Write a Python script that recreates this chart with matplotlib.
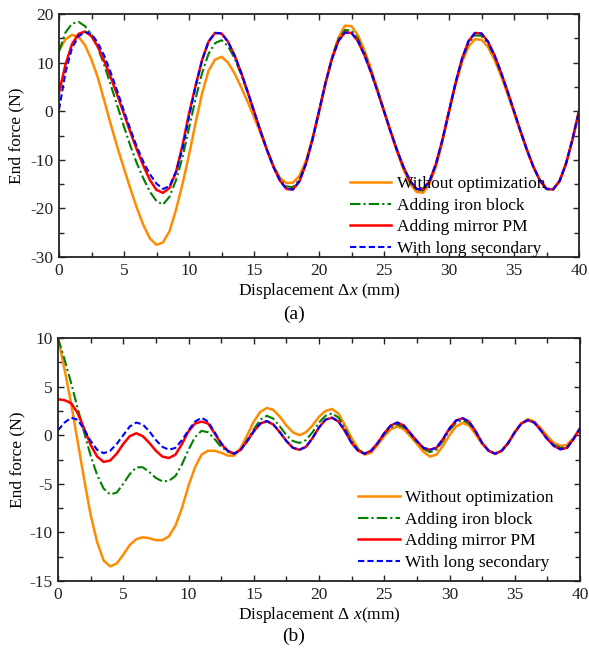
import numpy as np
import matplotlib
matplotlib.use("Agg")
import matplotlib.pyplot as plt
from matplotlib.ticker import MultipleLocator

plt.rcParams['font.family'] = ['Liberation Serif', 'DejaVu Serif']
plt.rcParams['mathtext.fontset'] = 'custom'
plt.rcParams['mathtext.rm'] = 'Liberation Serif'
plt.rcParams['mathtext.it'] = 'Liberation Serif:italic'
plt.rcParams['axes.unicode_minus'] = False

# displacement samples (mm), 0.5 mm step
dx = np.linspace(0, 40, 81)

labels = ["Without optimization", "Adding iron block", "Adding mirror PM", "With long secondary"]

# ---- (a) end force, N ----
a_without = [12.5, 14.8, 15.7, 15.3, 13.6, 10.6, 6.8, 2.0, -2.9, -7.5, -11.8, -16.0, -20.0, -23.5, -26.2, -27.5, -27.0, -24.7, -20.3, -15.0, -9.0,
             -2.5, 3.6, 8.3, 10.6, 11.2, 10.0, 7.8, 5.0, 2.0, -1.2, -4.5, -8.0, -11.3, -13.7, -14.8, -14.7, -13.3, -10.2, -5.6, -0.3,
             5.6, 11.0, 15.2, 17.6, 17.5, 15.6, 12.5, 8.7, 4.5, 0.1, -4.2, -8.3, -12.0, -14.9, -16.6, -16.8, -15.0, -11.4, -6.2, -0.2,
             5.4, 10.1, 13.3, 14.8, 14.7, 13.2, 10.6, 7.3, 3.6, -0.3, -4.2, -8.0, -11.5, -14.2, -15.9, -16.1, -14.4, -10.8, -5.8, 0.2]
a_iron = [12.3, 16.2, 18.0, 18.4, 17.5, 15.8, 13.0, 9.3, 5.2, 1.0, -3.2, -7.2, -10.8, -13.9, -16.6, -18.5, -19.2, -17.6, -14.2, -9.5, -3.5,
          2.5, 7.8, 11.8, 14.0, 14.6, 13.4, 10.9, 7.6, 3.9, 0.0, -4.0, -7.9, -11.3, -14.0, -15.5, -15.6, -14.0, -10.6, -5.7, 0.0,
          5.9, 11.1, 14.9, 16.7, 16.6, 14.9, 12.0, 8.4, 4.3, 0.0, -4.1, -8.1, -11.7, -14.5, -16.2, -16.3, -14.6, -11.0, -5.9, 0.0,
          5.6, 10.5, 14.0, 15.6, 15.5, 13.9, 11.2, 7.8, 4.0, 0.0, -4.1, -8.0, -11.5, -14.3, -16.0, -16.1, -14.4, -10.8, -5.8, 0.0]
a_mirror = [3.8, 9.6, 13.8, 15.9, 16.4, 15.4, 13.2, 10.2, 6.8, 3.2, -0.6, -4.4, -8.0, -11.3, -14.2, -16.2, -16.8, -15.8, -12.5, -7.0, -0.5,
            5.2, 10.5, 14.3, 16.1, 16.0, 14.3, 11.5, 8.0, 4.1, 0.0, -4.1, -8.0, -11.5, -14.3, -16.0, -16.1, -14.4, -10.8, -5.8, 0.0,
            5.8, 10.8, 14.5, 16.2, 16.1, 14.4, 11.5, 8.0, 4.1, 0.0, -4.1, -8.0, -11.5, -14.3, -16.0, -16.1, -14.4, -10.8, -5.8, 0.0,
            5.8, 10.8, 14.4, 16.1, 16.0, 14.3, 11.5, 8.0, 4.1, 0.0, -4.1, -8.0, -11.5, -14.3, -16.0, -16.1, -14.4, -10.8, -5.8, 0.0]
a_long = [0.3, 8.0, 13.0, 15.4, 16.3, 15.9, 14.0, 11.3, 7.8, 4.0, 0.0, -3.8, -7.4, -10.5, -13.0, -14.9, -16.0, -15.4, -12.5, -7.8, -1.2,
          5.0, 10.4, 14.3, 16.1, 16.0, 14.3, 11.5, 8.0, 4.1, 0.0, -4.1, -8.0, -11.5, -14.3, -16.0, -16.1, -14.4, -10.8, -5.8, 0.0,
          5.8, 10.8, 14.5, 16.2, 16.1, 14.4, 11.5, 8.0, 4.1, 0.0, -4.1, -8.0, -11.5, -14.3, -16.0, -16.1, -14.4, -10.8, -5.8, 0.0,
          5.8, 10.8, 14.4, 16.1, 16.0, 14.3, 11.5, 8.0, 4.1, 0.0, -4.1, -8.0, -11.5, -14.3, -16.0, -16.1, -14.4, -10.8, -5.8, 0.0]

# ---- (b) end force, N ----
b_without = [10.0, 6.8, 3.3, -0.6, -4.5, -8.2, -11.0, -12.9, -13.5, -13.2, -12.3, -11.3, -10.7, -10.5, -10.6, -10.8, -10.8, -10.4, -9.3, -7.5, -5.2,
             -3.3, -2.0, -1.6, -1.6, -1.8, -2.1, -2.1, -1.3, 0.0, 1.4, 2.4, 2.8, 2.6, 1.9, 1.0, 0.3, 0.0, 0.3, 1.0, 1.9,
             2.5, 2.7, 2.2, 1.0, -0.3, -1.4, -2.0, -1.8, -1.0, -0.1, 0.6, 0.9, 0.6, -0.1, -0.9, -1.7, -2.2, -2.0, -1.1, 0.0,
             0.9, 1.25, 1.0, 0.1, -0.9, -1.6, -1.95, -1.6, -0.8, 0.3, 1.2, 1.65, 1.4, 0.7, -0.1, -0.8, -1.1, -1.0, -0.3, 0.7]
b_iron = [10.0, 7.8, 5.4, 2.8, 0.3, -2.1, -4.1, -5.5, -6.1, -5.9, -5.0, -4.0, -3.3, -3.3, -3.8, -4.4, -4.75, -4.7, -4.2, -3.0, -1.5,
          -0.2, 0.45, 0.3, -0.4, -1.2, -1.7, -1.9, -1.5, -0.5, 0.6, 1.6, 2.0, 1.7, 0.9, 0.0, -0.6, -0.8, -0.5, 0.3, 1.3,
          2.0, 2.25, 1.8, 0.7, -0.6, -1.5, -1.9, -1.6, -0.8, 0.1, 0.8, 1.1, 0.8, 0.1, -0.7, -1.4, -1.75, -1.5, -0.6, 0.5,
          1.3, 1.55, 1.2, 0.3, -0.8, -1.6, -1.9, -1.6, -0.8, 0.3, 1.2, 1.55, 1.3, 0.5, -0.4, -1.0, -1.3, -1.2, -0.4, 0.7]
b_mirror = [3.7, 3.6, 3.3, 2.3, 0.7, -1.0, -2.2, -2.75, -2.6, -1.9, -0.9, -0.1, 0.2, -0.1, -0.8, -1.6, -2.2, -2.35, -2.0, -0.9, 0.4,
            1.2, 1.4, 1.2, 0.2, -0.9, -1.6, -1.9, -1.5, -0.6, 0.4, 1.2, 1.45, 1.1, 0.3, -0.6, -1.3, -1.5, -1.2, -0.3, 0.8,
            1.6, 1.8, 1.4, 0.4, -0.8, -1.6, -1.9, -1.6, -0.8, 0.2, 1.0, 1.3, 1.0, 0.2, -0.6, -1.3, -1.5, -1.3, -0.4, 0.7,
            1.5, 1.75, 1.4, 0.4, -0.8, -1.6, -1.9, -1.6, -0.8, 0.3, 1.2, 1.55, 1.3, 0.5, -0.4, -1.1, -1.45, -1.3, -0.4, 0.7]
b_long = [0.5, 1.3, 1.8, 1.6, 0.6, -0.6, -1.5, -1.85, -1.6, -0.9, 0.0, 0.9, 1.3, 1.1, 0.4, -0.5, -1.2, -1.5, -1.3, -0.5, 0.5,
          1.4, 1.8, 1.4, 0.3, -0.8, -1.6, -1.9, -1.5, -0.6, 0.4, 1.2, 1.45, 1.1, 0.3, -0.6, -1.3, -1.5, -1.2, -0.3, 0.8,
          1.6, 1.8, 1.4, 0.4, -0.8, -1.6, -1.9, -1.6, -0.8, 0.2, 1.0, 1.3, 1.0, 0.2, -0.6, -1.3, -1.5, -1.3, -0.4, 0.7,
          1.5, 1.75, 1.4, 0.4, -0.8, -1.6, -1.9, -1.6, -0.8, 0.3, 1.2, 1.55, 1.3, 0.5, -0.4, -1.1, -1.45, -1.3, -0.4, 0.7]

styles = [dict(color='#FF8C00', ls='-', lw=1.8),
          dict(color='#008000', ls=(0, (5, 1.5, 1, 1.5)), lw=1.5),
          dict(color='#FF0000', ls='-', lw=1.8),
          dict(color='#0000FF', ls=(0, (3, 1.5)), lw=1.5)]

W, H = 589, 654
fig = plt.figure(figsize=(W / 100, H / 100), dpi=100)

def make_ax(l, r, t, b):
    return fig.add_axes([l / W, 1 - b / H, (r - l) / W, (b - t) / H])

ax1 = make_ax(59, 579, 14, 257)
ax2 = make_ax(58, 580, 338, 581)

FS = 12.5

def style_ax(ax, ymin, ymax, ystep, yminor):
    ax.set_xlim(0, 40)
    ax.set_ylim(ymin, ymax)
    ax.xaxis.set_major_locator(MultipleLocator(5))
    ax.xaxis.set_minor_locator(MultipleLocator(2.5))
    ax.yaxis.set_major_locator(MultipleLocator(ystep))
    ax.yaxis.set_minor_locator(MultipleLocator(yminor))
    ax.tick_params(which='both', direction='in', top=True, right=True,
                   labelsize=FS, width=1.0, colors='#222222', labelcolor='#222222')
    ax.tick_params(which='major', length=4.5, pad=4)
    ax.tick_params(which='minor', length=3.5)
    for s in ax.spines.values():
        s.set_linewidth(1.3)
        s.set_color('#222222')

for ax, series in [(ax1, [a_without, a_iron, a_mirror, a_long]),
                   (ax2, [b_without, b_iron, b_mirror, b_long])]:
    for vals, st, lab in zip(series, styles, labels):
        ax.plot(dx, vals, label=lab, **st)

style_ax(ax1, -30, 20, 10, 5)
style_ax(ax2, -15, 10, 5, 2.5)

ax1.set_ylabel("End force (N)", fontsize=FS, labelpad=4)
ax2.set_ylabel("End force (N)", fontsize=FS, labelpad=3)
ax1.set_xlabel("Displacement Δ$x$ (mm)", fontsize=FS, labelpad=2)
ax2.set_xlabel("Displacement Δ $x$(mm)", fontsize=FS, labelpad=2)

leg_kw = dict(frameon=False, fontsize=FS, handlelength=2.4, handletextpad=0.3,
              labelspacing=0.31, borderpad=0.2)
ax1.legend(loc='lower right', bbox_to_anchor=(0.958, -0.05), **leg_kw)
ax2.legend(loc='lower right', bbox_to_anchor=(0.972, -0.008), **leg_kw)

fig.text(294 / W, 1 - 314 / H, "(a)", fontsize=14, ha='center', va='center')
fig.text(294 / W, 1 - 636 / H, "(b)", fontsize=14, ha='center', va='center')

fig.savefig("out.png", dpi=100)
